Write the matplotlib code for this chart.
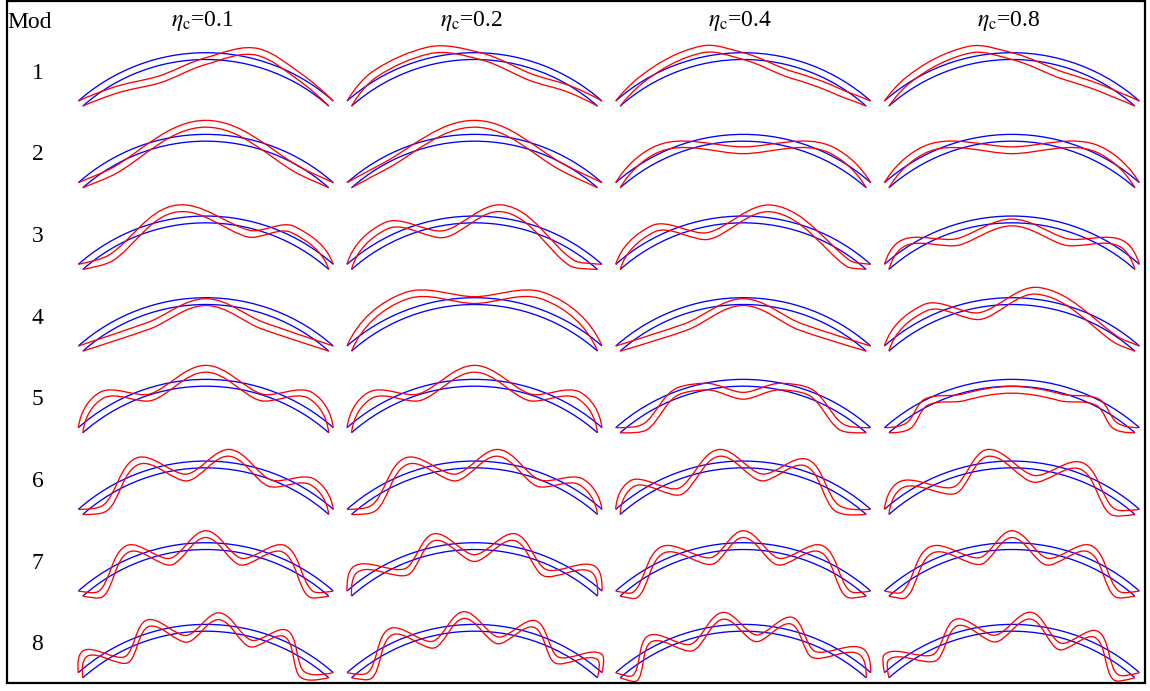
import numpy as np
import matplotlib
matplotlib.use("Agg")
import matplotlib.pyplot as plt
from matplotlib.path import Path
from matplotlib.patches import PathPatch, Arc, Rectangle

# ---------------- data ----------------
eta_values = [0.1, 0.2, 0.4, 0.8]
mode_numbers = [1, 2, 3, 4, 5, 6, 7, 8]

# red mode shapes: keypoints (u, w); u = position along span (-1..1),
# w = radial displacement of the deformed beam in pixels (+ = outward)
shapes_eta01 = [
    [(-1, 0), (-0.78, -9), (-0.42, -17), (0, -5), (0.4, 11), (0.72, 4), (1, 0)],
    [(-1, 0), (-0.75, -8), (0, 14), (0.75, -7), (1, 0)],
    [(-1, 0), (-0.8, -11), (-0.22, 13), (0.36, -9), (0.66, 10), (1, 0)],
    [(-1, 0), (-0.5, -15), (0, -1), (0.5, -15), (1, 0)],
    [(-1, 0), (-0.77, 16), (-0.45, -6), (0, 14), (0.45, -6), (0.77, 16), (1, 0)],
    [(-1, 0), (-0.86, -12), (-0.5, 15), (-0.16, -12), (0.18, 13), (0.53, -7), (0.8, 13), (1, 0)],
    [(-1, 0), (-0.9, -13), (-0.58, 13), (-0.3, -12), (0, 12), (0.3, -12), (0.58, 13), (0.9, -13), (1, 0)],
    [(-1, 0), (-0.9, 14), (-0.68, -13), (-0.43, 13), (-0.16, -10), (0.1, 12), (0.38, -10), (0.6, 11), (0.85, -17), (1, 0)],
]
shapes_eta02 = [
    [(-1, 0), (-0.75, 9), (-0.35, 11), (0.05, 0), (0.5, -12), (0.8, -6), (1, 0)],
    [(-1, 0), (-0.72, -5), (0, 14), (0.72, -7), (1, 0)],
    [(-1, 0), (-0.66, 14), (-0.26, -12), (0.21, 13), (0.83, -14), (1, 0)],
    [(-1, 0), (-0.5, 17), (0, 1), (0.5, 17), (1, 0)],
    [(-1, 0), (-0.77, 16), (-0.45, -6), (0, 14), (0.45, -6), (0.77, 16), (1, 0)],
    [(-1, 0), (-0.86, -12), (-0.5, 15), (-0.16, -12), (0.18, 13), (0.53, -7), (0.8, 13), (1, 0)],
    [(-1, 0), (-0.88, 15), (-0.58, -12), (-0.3, 13), (0, -12), (0.3, 13), (0.6, -12), (0.88, 15), (1, 0)],
    [(-1, 0), (-0.9, -13), (-0.62, 14), (-0.35, -12), (-0.08, 13), (0.2, -11), (0.45, 13), (0.7, -12), (0.93, 14), (1, 0)],
]
shapes_eta04 = [
    [(-1, 0), (-0.8, 5), (-0.31, 11), (0, 0), (0.42, -12), (0.77, -9), (1, 0)],
    [(-1, 0), (-0.68, 8.5), (0, -12.5), (0.68, 8.5), (1, 0)],
    [(-1, 0), (-0.68, 12), (-0.3, -13), (0.22, 13), (0.88, -10), (1, 0)],
    [(-1, 0), (-0.5, -16), (0, -1), (0.5, -16), (1, 0)],
    [(-1, 0), (-0.84, -14), (-0.5, 3), (-0.3, 0), (0, -13), (0.3, 0), (0.5, 3), (0.84, -14), (1, 0)],
    [(-1, 0), (-0.83, 14), (-0.55, -15), (-0.18, 13), (0.16, -12), (0.47, 12), (0.82, -16), (1, 0)],
    [(-1, 0), (-0.92, -12), (-0.6, 13), (-0.27, -12), (0, 12), (0.3, -12), (0.58, 13), (0.9, -13), (1, 0)],
    [(-1, 0), (-0.93, -13), (-0.7, 12), (-0.44, -12), (-0.15, 13), (0.11, -10), (0.36, 13), (0.6, -12), (0.88, 14), (1, 0)],
]
shapes_eta08 = [
    [(-1, 0), (-0.8, 6), (-0.32, 11), (0, 0), (0.45, -12), (0.78, -8), (1, 0)],
    [(-1, 0), (-0.68, 8.5), (0, -12.5), (0.68, 8.5), (1, 0)],
    [(-1, 0), (-0.85, 9), (-0.45, -14), (0, -3), (0.45, -14), (0.85, 9), (1, 0)],
    [(-1, 0), (-0.65, 13), (-0.27, -12), (0.2, 12), (0.85, -6), (1, 0)],
    [(-1, 0), (-0.87, -10), (-0.68, 1), (-0.4, -8), (0, -7), (0.4, -8), (0.68, 1), (0.87, -10), (1, 0)],
    [(-1, 0), (-0.84, 13), (-0.5, -16), (-0.18, 13), (0.19, -13), (0.52, 11), (0.87, -15), (1, 0)],
    [(-1, 0), (-0.92, -12), (-0.6, 13), (-0.27, -12), (0, 12), (0.3, -12), (0.58, 13), (0.9, -13), (1, 0)],
    [(-1, 0), (-0.93, 14), (-0.66, -12), (-0.41, 13), (-0.14, -10), (0.14, 13), (0.41, -12), (0.63, 12), (0.9, -15), (1, 0)],
]
all_shapes = [shapes_eta01, shapes_eta02, shapes_eta04, shapes_eta08]

# ---------------- layout (pixels) ----------------
W, H = 1150, 691
col_x0, col_pitch = 205.8, 268.7
row_top0, row_pitch = 52.7, 81.67
R_OUT, THICK = 192.4, 6.8
R_IN = R_OUT - THICK
ALPHA = np.arcsin(127.5 / R_OUT)
BLUE, RED = "#0000ff", "#ff0000"
LW = 0.95
FS = 17

plt.rcParams["mathtext.fontset"] = "stix"
fig = plt.figure(figsize=(W / 100, H / 100), dpi=100)
ax = fig.add_axes([0, 0, 1, 1])
ax.set_xlim(0, W)
ax.set_ylim(H, 0)
ax.axis("off")


def pchip_slopes(x, y):
    x = np.asarray(x, float)
    y = np.asarray(y, float)
    h = np.diff(x)
    d = np.diff(y) / h
    n = len(x)
    m = np.zeros(n)
    for k in range(1, n - 1):
        if d[k - 1] * d[k] <= 0:
            m[k] = 0.0
        else:
            w1 = 2 * h[k] + h[k - 1]
            w2 = h[k] + 2 * h[k - 1]
            m[k] = (w1 + w2) / (w1 / d[k - 1] + w2 / d[k])

    def end(h0, h1, d0, d1):
        s = ((2 * h0 + h1) * d0 - h0 * d1) / (h0 + h1)
        if np.sign(s) != np.sign(d0):
            s = 0.0
        elif np.sign(d0) != np.sign(d1) and abs(s) > abs(3 * d0):
            s = 3 * d0
        return s

    m[0] = end(h[0], h[1], d[0], d[1])
    m[-1] = end(h[-1], h[-2], d[-1], d[-2])
    return m


def deformed_path(cx, cy, R, th, w, m):
    def P(t, ww):
        return np.array([cx + (R + ww) * np.sin(t), cy - (R + ww) * np.cos(t)])

    def D(t, ww, mm):
        return np.array([mm * np.sin(t) + (R + ww) * np.cos(t),
                         -mm * np.cos(t) + (R + ww) * np.sin(t)])

    verts = [P(th[0], w[0])]
    codes = [Path.MOVETO]
    for k in range(len(th) - 1):
        dt = th[k + 1] - th[k]
        p0, p1 = P(th[k], w[k]), P(th[k + 1], w[k + 1])
        d0, d1 = D(th[k], w[k], m[k]), D(th[k + 1], w[k + 1], m[k + 1])
        verts += [p0 + d0 * dt / 3, p1 - d1 * dt / 3, p1]
        codes += [Path.CURVE4] * 3
    return Path(verts, codes)


for j, shapes in enumerate(all_shapes):
    cx = col_x0 + j * col_pitch
    for i, kp in enumerate(shapes):
        cy = row_top0 + R_OUT + i * row_pitch
        # undeformed beam (blue)
        for R in (R_OUT, R_IN):
            ax.add_patch(Arc((cx, cy), 2 * R, 2 * R,
                             theta1=270 - np.degrees(ALPHA), theta2=270 + np.degrees(ALPHA),
                             color=BLUE, lw=LW))
        # deformed mode shape (red)
        u = np.array([p[0] for p in kp], float)
        w = np.array([p[1] for p in kp], float)
        th = np.arcsin(u * np.sin(ALPHA))
        m = pchip_slopes(th, w)
        for R in (R_OUT, R_IN):
            ax.add_patch(PathPatch(deformed_path(cx, cy, R, th, w, m),
                                   fill=False, edgecolor=RED, lw=LW))

# texts
serif = "Liberation Serif"
ax.text(7, 27.5, "Mod", fontsize=FS, family=serif, ha="left", va="baseline")
for j, eta in enumerate(eta_values):
    ax.text(col_x0 - 3 + j * col_pitch, 26, r"$\eta_{\mathrm{c}}$=" + f"{eta}",
            fontsize=FS, family=serif, ha="center", va="baseline")
for i, mode in enumerate(mode_numbers):
    ax.text(37.5, 73 + i * row_pitch, str(mode), fontsize=FS, family=serif,
            ha="center", va="center")

# frame
ax.add_patch(Rectangle((6.5, 1.2), 1138, 681.5, fill=False, edgecolor="black", lw=1.6))

fig.savefig("out.png", dpi=100)
